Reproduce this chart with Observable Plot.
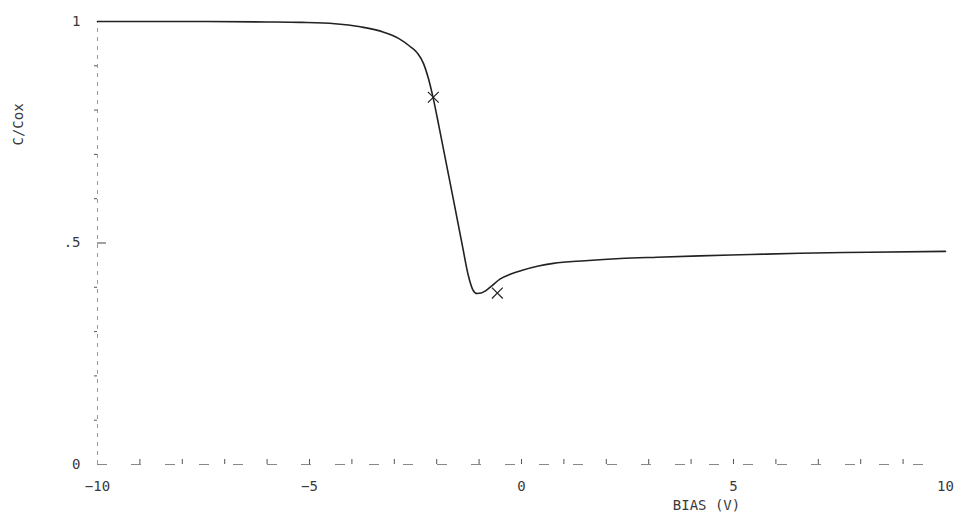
<!DOCTYPE html>
<html>
<head>
<meta charset="utf-8">
<script src="https://cdn.jsdelivr.net/npm/d3@7"></script>
<script src="https://cdn.jsdelivr.net/npm/@observablehq/plot@0.6"></script>
<style>
  html, body { margin: 0; padding: 0; background: #fff; }
  #chart svg { display: block; }
</style>
</head>
<body>
<div id="chart"></div>
<script>
// Bias voltage (V) and normalized capacitance C/Cox
const bias = [-10, -8, -6, -5.2, -4.4, -3.8, -3.25, -2.9, -2.62, -2.45, -2.31, -2.2, -2.08, -1.95, -1.8, -1.6, -1.4, -1.25, -1.15, -1.05, -0.95, -0.85, -0.73, -0.5, -0.25, 0, 0.4, 0.75, 1.5, 2.33, 3.2, 4.2, 5.4, 6.56, 8.2, 10];
const cRatio = [1.0, 1.0, 0.999, 0.998, 0.995, 0.988, 0.976, 0.962, 0.943, 0.928, 0.905, 0.873, 0.826, 0.765, 0.692, 0.595, 0.497, 0.425, 0.395, 0.386, 0.387, 0.392, 0.401, 0.419, 0.43, 0.438, 0.448, 0.454, 0.46, 0.465, 0.468, 0.471, 0.474, 0.477, 0.479, 0.481];

// Marked points (x symbols)
const markBias = [-2.08, -0.57];
const markC = [0.829, 0.387];

// Axis ticks
const xTickLabels = [-10, -5, 0, 5, 10];
const xMinorTicks = d3.range(-9, 10, 1);
const yTickLabels = [0, 0.5, 1];
const yMinorTicks = [0.1, 0.2, 0.3, 0.4, 0.6, 0.7, 0.8, 0.9];
const xTitle = "BIAS (V)";
const yTitle = "C/Cox";

const curve = bias.map((b, i) => ({b, c: cRatio[i]}));
const marks = markBias.map((b, i) => ({b, c: markC[i]}));

const font = "'DejaVu Sans Mono', 'Liberation Mono', monospace";
const ink = "#3a3a3a";

const chart = Plot.plot({
  width: 961,
  height: 520,
  marginLeft: 97,
  marginRight: 16,
  marginTop: 21,
  marginBottom: 56,
  style: {fontFamily: font, fontSize: "14px", color: ink, background: "#fff"},
  x: {domain: [-10, 10]},
  y: {domain: [0, 1]},
  marks: [
    // axis lines (plotter-like, faint and broken)
    Plot.ruleX([-10], {y1: 0, y2: 1, stroke: "#999", strokeWidth: 1, strokeDasharray: "4,5"}),
    Plot.ruleY([0], {x1: -10, x2: 10, stroke: "#888", strokeWidth: 1, strokeDasharray: "10,24"}),
    // minor ticks
    Plot.axisX({ticks: xMinorTicks, tickSize: -5, tickFormat: () => "", label: null, stroke: "#555"}),
    Plot.axisY({ticks: yMinorTicks, tickSize: 3, tickFormat: () => "", label: null, stroke: "#555"}),
    // major ticks and labels
    Plot.axisX({ticks: xTickLabels, tickSize: 0, tickPadding: 17, fill: ink, fontSize: 14,
      tickFormat: d => d < 0 ? "−" + Math.abs(d) : String(d), label: null}),
    Plot.axisY({ticks: yTickLabels, tickSize: 0, tickPadding: 17, fill: ink, fontSize: 14,
      tickFormat: d => d === 0.5 ? ".5" : String(d), label: null}),
    Plot.axisY({ticks: [0.5], tickSize: -9, tickFormat: () => "", label: null, stroke: "#444"}),
    // axis titles
    Plot.text([xTitle], {frameAnchor: "bottom", dx: 185, dy: 45, fill: ink, fontSize: 14}),
    Plot.text([yTitle], {frameAnchor: "top-left", dx: -84, dy: 124, rotate: -90, fill: ink, fontSize: 14}),
    // the C-V curve
    Plot.line(curve, {x: "b", y: "c", stroke: "#222", strokeWidth: 1.6, curve: "monotone-x"}),
    // marker crosses
    Plot.dot(marks, {x: "b", y: "c", symbol: "times", r: 5, stroke: "#222", strokeWidth: 1.2})
  ]
});

document.getElementById("chart").appendChild(chart);
</script>
</body>
</html>
